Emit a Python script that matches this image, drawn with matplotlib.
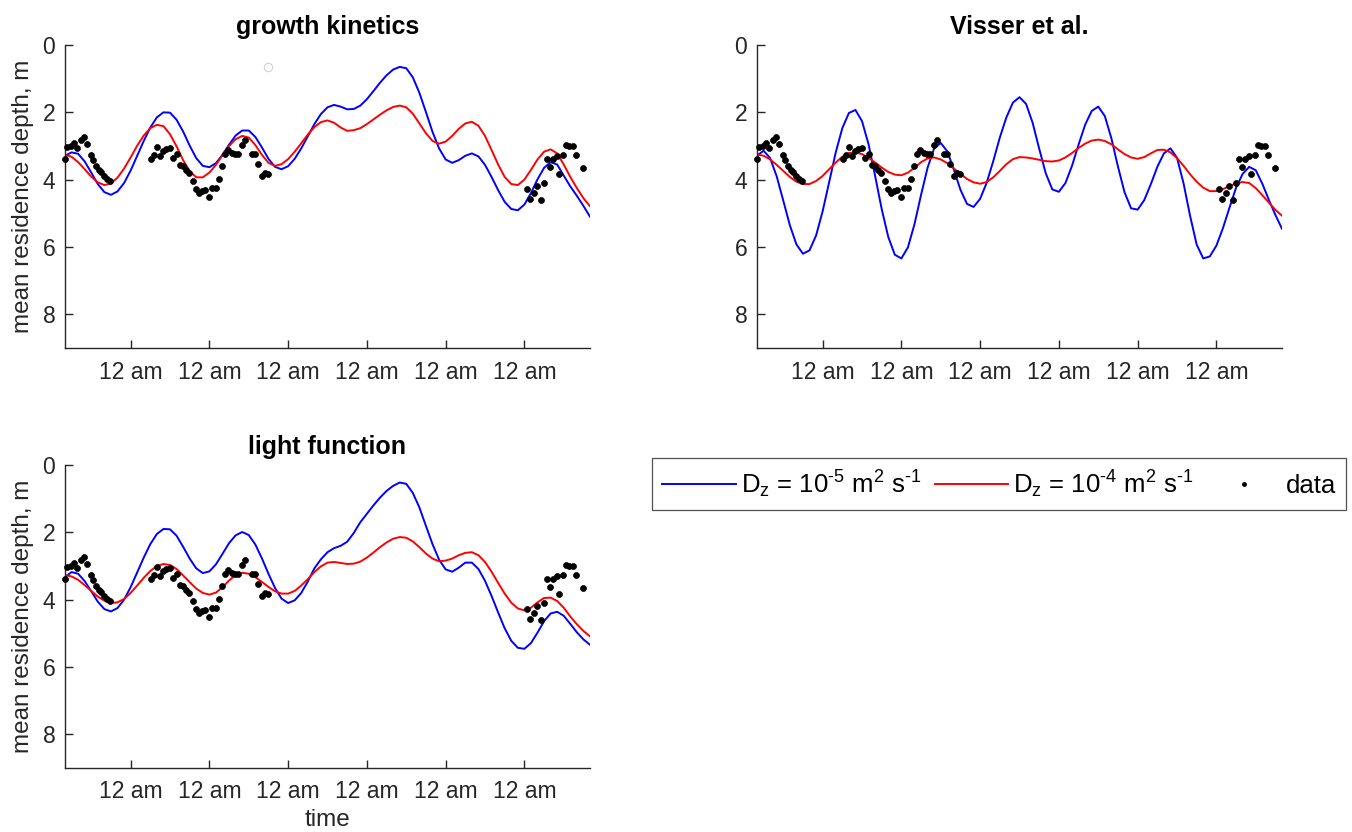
import numpy as np
import matplotlib
matplotlib.use("Agg")
import matplotlib.pyplot as plt
from matplotlib.lines import Line2D

plt.rcParams['font.family'] = ['Liberation Sans', 'DejaVu Sans']
plt.rcParams['mathtext.fontset'] = 'custom'
plt.rcParams['mathtext.rm'] = 'Liberation Sans'
plt.rcParams['mathtext.it'] = 'Liberation Sans:italic'
plt.rcParams['mathtext.bf'] = 'Liberation Sans:bold'

# ---------------------------------------------------------------------------
# time axis (hours since the start of the record, 2-hourly model output)
model_hours = np.arange(4, 166, 2)
midnights = [24, 48, 72, 96, 120, 144]
tick_labels = ['12 am'] * 6

# growth kinetics model
gk_dz5 = [3.29, 3.19, 3.23, 3.46, 3.79, 4.13, 4.37, 4.45, 4.35, 4.10,
          3.73, 3.29, 2.85, 2.45, 2.15, 2.00, 2.01, 2.22, 2.57, 2.99,
          3.36, 3.59, 3.63, 3.51, 3.26, 2.96, 2.69, 2.54, 2.54, 2.73,
          3.04, 3.38, 3.62, 3.69, 3.60, 3.38, 3.07, 2.71, 2.35, 2.05,
          1.85, 1.78, 1.83, 1.91, 1.90, 1.80, 1.61, 1.37, 1.12, 0.90,
          0.73, 0.65, 0.69, 0.96, 1.42, 1.99, 2.58, 3.07, 3.40, 3.50,
          3.42, 3.29, 3.22, 3.31, 3.56, 3.92, 4.31, 4.66, 4.87, 4.91,
          4.74, 4.40, 3.99, 3.65, 3.48, 3.55, 3.88, 4.20, 4.48, 4.78,
          5.10]
gk_dz4 = [3.26, 3.32, 3.48, 3.69, 3.91, 4.08, 4.16, 4.11, 3.94, 3.67,
          3.34, 2.99, 2.69, 2.47, 2.37, 2.41, 2.65, 3.01, 3.42, 3.75,
          3.93, 3.93, 3.79, 3.56, 3.27, 3.00, 2.80, 2.70, 2.75, 2.97,
          3.26, 3.50, 3.59, 3.54, 3.39, 3.17, 2.92, 2.66, 2.44, 2.29,
          2.24, 2.31, 2.45, 2.55, 2.53, 2.47, 2.35, 2.21, 2.07, 1.94,
          1.84, 1.80, 1.85, 2.04, 2.33, 2.62, 2.85, 2.93, 2.87, 2.70,
          2.49, 2.33, 2.28, 2.40, 2.70, 3.12, 3.55, 3.92, 4.13, 4.16,
          4.00, 3.71, 3.40, 3.17, 3.10, 3.22, 3.55, 3.92, 4.25, 4.55,
          4.79]

# Visser et al. model
vis_dz5 = [3.29, 3.14, 3.36, 3.90, 4.62, 5.35, 5.92, 6.20, 6.10, 5.66,
           4.94, 4.07, 3.19, 2.47, 2.02, 1.93, 2.26, 2.95, 3.89, 4.87,
           5.70, 6.23, 6.34, 6.01, 5.32, 4.45, 3.64, 3.07, 2.91, 3.16,
           3.70, 4.30, 4.72, 4.81, 4.57, 4.09, 3.45, 2.75, 2.15, 1.71,
           1.55, 1.75, 2.31, 3.08, 3.81, 4.29, 4.36, 4.10, 3.59, 2.96,
           2.37, 1.96, 1.83, 2.11, 2.77, 3.61, 4.37, 4.85, 4.89, 4.61,
           4.14, 3.62, 3.22, 3.07, 3.35, 4.11, 5.08, 5.93, 6.34, 6.28,
           5.96, 5.44, 4.83, 4.24, 3.83, 3.62, 3.72, 4.12, 4.60, 5.05,
           5.46]
vis_dz4 = [3.25, 3.29, 3.40, 3.56, 3.74, 3.92, 4.06, 4.13, 4.13, 4.04,
           3.89, 3.69, 3.49, 3.32, 3.21, 3.19, 3.24, 3.35, 3.49, 3.64,
           3.77, 3.85, 3.87, 3.79, 3.65, 3.48, 3.37, 3.34, 3.40, 3.51,
           3.67, 3.83, 3.98, 4.08, 4.12, 4.07, 3.93, 3.74, 3.54, 3.39,
           3.33, 3.34, 3.37, 3.41, 3.45, 3.46, 3.43, 3.34, 3.21, 3.06,
           2.93, 2.84, 2.81, 2.85, 2.95, 3.10, 3.24, 3.34, 3.38, 3.33,
           3.22, 3.12, 3.11, 3.19, 3.36, 3.59, 3.84, 4.06, 4.24, 4.34,
           4.34, 4.28, 4.19, 4.11, 4.07, 4.10, 4.25, 4.46, 4.68, 4.90,
           5.07]

# light function model
lf_dz5 = [3.33, 3.18, 3.23, 3.45, 3.75, 4.06, 4.28, 4.35, 4.25, 4.00,
          3.63, 3.19, 2.75, 2.35, 2.05, 1.90, 1.91, 2.10, 2.43, 2.78,
          3.07, 3.21, 3.16, 2.95, 2.64, 2.32, 2.09, 1.99, 2.08, 2.36,
          2.77, 3.23, 3.65, 3.97, 4.10, 4.02, 3.80, 3.46, 3.07, 2.80,
          2.59, 2.47, 2.40, 2.28, 2.02, 1.70, 1.45, 1.20, 0.97, 0.77,
          0.62, 0.52, 0.56, 0.83, 1.26, 1.81, 2.35, 2.81, 3.10, 3.17,
          3.05, 2.90, 2.90, 3.09, 3.44, 3.89, 4.38, 4.85, 5.22, 5.43,
          5.46, 5.29, 4.98, 4.64, 4.41, 4.36, 4.48, 4.72, 4.97, 5.18,
          5.34]
lf_dz4 = [3.27, 3.31, 3.41, 3.57, 3.74, 3.91, 4.03, 4.10, 4.08, 3.98,
          3.80, 3.58, 3.35, 3.15, 3.00, 2.94, 2.97, 3.09, 3.28, 3.48,
          3.67, 3.80, 3.85, 3.79, 3.63, 3.43, 3.27, 3.20, 3.23, 3.33,
          3.47, 3.62, 3.75, 3.82, 3.82, 3.74, 3.58, 3.39, 3.18, 3.01,
          2.90, 2.88, 2.91, 2.94, 2.93, 2.87, 2.75, 2.60, 2.44, 2.30,
          2.19, 2.14, 2.16, 2.27, 2.44, 2.63, 2.78, 2.86, 2.84, 2.78,
          2.68, 2.61, 2.59, 2.68, 2.88, 3.17, 3.50, 3.82, 4.09, 4.26,
          4.32, 4.24, 4.08, 3.95, 3.94, 4.04, 4.24, 4.50, 4.73, 4.93,
          5.09]

# observed mean residence depth
obs_hours = [4.0, 4.7, 5.7, 6.7, 7.6, 8.8, 9.8, 10.8, 11.8, 12.6,
             13.4, 14.3, 15.1, 15.9, 16.8, 17.7,
             30.1, 31.1, 32.1, 33.0, 34.0, 34.9, 35.9, 37.0, 38.0, 38.9,
             39.9, 40.8, 41.8, 43.0, 43.9, 44.8, 45.8, 46.7, 47.9, 48.9,
             49.9, 50.8, 51.8, 52.8, 53.8, 54.8, 55.8, 56.8, 57.9, 58.9,
             61.0, 61.9, 62.9, 63.9, 64.9, 65.8,
             144.9, 145.8, 146.8, 147.8, 149.0, 149.9, 150.9, 151.9, 152.8,
             153.8, 154.7, 155.7, 156.8, 157.7, 158.7, 159.8, 161.8]
obs_depth = [3.39, 3.03, 3.00, 2.91, 3.07, 2.82, 2.74, 2.95, 3.27, 3.43,
             3.59, 3.70, 3.78, 3.88, 3.98, 4.03,
             3.38, 3.27, 3.02, 3.30, 3.15, 3.09, 3.06, 3.35, 3.24, 3.55,
             3.59, 3.70, 3.79, 4.04, 4.27, 4.40, 4.34, 4.30, 4.52, 4.25,
             4.24, 3.97, 3.60, 3.23, 3.13, 3.20, 3.25, 3.25, 2.98, 2.82,
             3.23, 3.24, 3.53, 3.90, 3.80, 3.83,
             4.29, 4.56, 4.40, 4.20, 4.60, 4.10, 3.38, 3.63, 3.40,
             3.31, 3.83, 3.28, 2.98, 3.00, 3.01, 3.28, 3.65]

series_labels = [r'D$_{\rm z}$ = 10$^{\text{-5}}$ m$^{\rm 2}$ s$^{\text{-1}}$',
                 r'D$_{\rm z}$ = 10$^{\text{-4}}$ m$^{\rm 2}$ s$^{\text{-1}}$',
                 'data']

# ---------------------------------------------------------------------------
BLUE = '#0000ff'
RED = '#ff0000'
AXC = '#262626'

fig = plt.figure(figsize=(13.52, 8.32), dpi=100)
W, H = 1352.0, 832.0


def add_panel(x0, y0, x1, y1):
    return fig.add_axes([x0 / W, 1 - y1 / H, (x1 - x0) / W, (y1 - y0) / H])


panels = [
    (add_panel(65, 45, 590, 348), 'growth kinetics', gk_dz5, gk_dz4, True, False),
    (add_panel(757, 45, 1282, 348), 'Visser et al.', vis_dz5, vis_dz4, False, False),
    (add_panel(65, 465, 590, 768), 'light function', lf_dz5, lf_dz4, True, True),
]

for ax, title, dz5, dz4, ylab, xlab in panels:
    ax.plot(model_hours, dz5, color=BLUE, lw=1.4, solid_joinstyle='round')
    ax.plot(model_hours, dz4, color=RED, lw=1.4, solid_joinstyle='round')
    ax.plot(obs_hours, obs_depth, ls='none', marker='o', ms=4.3,
            mfc='k', mec='k', mew=0.5, clip_on=False, zorder=3)
    ax.set_xlim(4, 164)
    ax.set_ylim(9, 0)
    ax.set_yticks([0, 2, 4, 6, 8])
    ax.set_xticks(midnights)
    ax.set_xticklabels(tick_labels)
    for side in ('top', 'right'):
        ax.spines[side].set_visible(False)
    for side in ('left', 'bottom'):
        ax.spines[side].set_color(AXC)
        ax.spines[side].set_linewidth(1.0)
    ax.tick_params(axis='both', direction='in', length=6, width=1.0,
                   colors=AXC, labelsize=16.5)
    ax.tick_params(axis='x', pad=9)
    ax.tick_params(axis='y', pad=7)
    ax.set_title(title, fontsize=18, fontweight='bold', pad=8, color='k')
    if ylab:
        ax.set_ylabel('mean residence depth, m', fontsize=17.5, color=AXC,
                      labelpad=6)
    if xlab:
        ax.set_xlabel('time', fontsize=17.5, color=AXC, labelpad=4)

# faint open-circle marker near the top of the first panel
panels[0][0].plot([65.9], [0.65], ls='none', marker='o', ms=6,
                  mfc='none', mec='#d0d0d0', mew=0.8)

handles = [Line2D([], [], color=BLUE, lw=1.4),
           Line2D([], [], color=RED, lw=1.4),
           Line2D([], [], ls='none', marker='o', ms=2.5, color='k')]
leg = fig.legend(handles, series_labels, ncol=3, loc='upper left',
                 bbox_to_anchor=(652 / W, 1 - 512 / H, 694 / W, 54 / H),
                 mode='expand', borderaxespad=0, frameon=True, fancybox=False,
                 edgecolor=AXC, fontsize=18.5, handlelength=2.85,
                 handletextpad=0.2, columnspacing=0.5, borderpad=0.4)
leg.get_frame().set_linewidth(0.9)
for t in leg.get_texts():
    t.set_color('k')

fig.savefig('out.png', dpi=100, facecolor='white')
